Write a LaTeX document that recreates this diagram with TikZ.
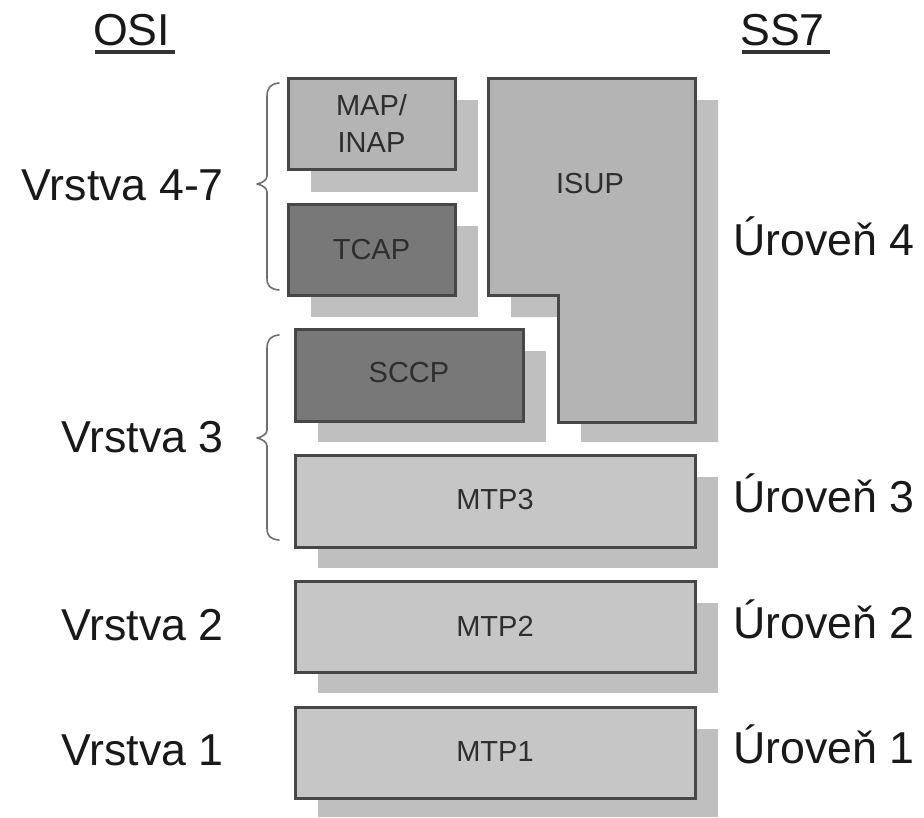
\documentclass[tikz,border=0pt]{standalone}
\usepackage{fontspec}
\setmainfont{Liberation Sans}
\definecolor{bordergray}{HTML}{474747}
\definecolor{lightfill}{HTML}{B4B4B4}
\definecolor{mtpfill}{HTML}{C6C6C6}
\definecolor{darkfill}{HTML}{787878}
\definecolor{shadowgray}{HTML}{BFBFBF}
\definecolor{bracegray}{HTML}{6E6E6E}
\definecolor{textgray}{HTML}{2E2E2E}
\tikzset{
  boxline/.style={draw=bordergray, line width=3pt},
  shadowbox/.style={fill=shadowgray},
  lab/.style={font=\fontsize{44.7}{50}\selectfont, inner sep=0pt, text=black!90},
  boxtext/.style={font=\fontsize{29}{37}\selectfont, text=textgray, align=center, inner sep=0pt},
  bracestyle/.style={draw=bracegray, line width=1.6pt, line cap=round, line join=round}
}
\begin{document}
\begin{tikzpicture}[x=1pt,y=-1pt]
\useasboundingbox (0,0) rectangle (924,817);
\fill[white] (0,0) rectangle (924,817);

% shadows
\path[shadowbox] (311,100) rectangle (478,192);
\path[shadowbox] (311,226) rectangle (478,317);
\path[shadowbox] (511,100) -- (718,100) -- (718,442) -- (581,442) -- (581,317) -- (511,317) -- cycle;
\path[shadowbox] (318,351) rectangle (546,442);
\path[shadowbox] (318,477) rectangle (718,568);
\path[shadowbox] (318,603) rectangle (718,693);
\path[shadowbox] (318,729) rectangle (718,817);

% boxes
\path[boxline, fill=lightfill] (288,78) rectangle (455,169);
\node[boxtext] (map) at (371.5,123.5) {MAP/\\INAP};
\path[boxline, fill=darkfill] (288,204) rectangle (455,295);
\node[boxtext] (tcap) at (371.5,249.5) {TCAP};
\path[boxline, fill=lightfill] (488,78) -- (695,78) -- (695,422) -- (558,422) -- (558,295) -- (488,295) -- cycle;
\node[boxtext] (isup) at (590,184) {ISUP};
\path[boxline, fill=darkfill] (295,329) rectangle (523,421);
\node[boxtext] (sccp) at (409,373) {SCCP};
\path[boxline, fill=mtpfill] (295,455) rectangle (695,547);
\node[boxtext] (mtp3) at (495,500) {MTP3};
\path[boxline, fill=mtpfill] (295,581) rectangle (695,672);
\node[boxtext] (mtp2) at (495,626) {MTP2};
\path[boxline, fill=mtpfill] (295,707) rectangle (695,798);
\node[boxtext] (mtp1) at (495,752) {MTP1};

% headers
\node[lab, anchor=base west] (osi) at (93,45) {OSI};
\draw[line width=3.5pt, black!80] (95,52) -- (175,52);
\node[lab, anchor=base west] (ss7) at (740,45) {SS7};
\draw[line width=3.5pt, black!80] (742,52) -- (830,52);

% left labels
\node[lab, anchor=base east] (v47) at (224,200) {Vrstva 4-7};
\node[lab, anchor=base east] (v3) at (224,452) {Vrstva 3};
\node[lab, anchor=base east] (v2) at (224,640) {Vrstva 2};
\node[lab, anchor=base east] (v1) at (224,765) {Vrstva 1};

% right labels
\node[lab, anchor=base west] (u4) at (733,255) {Úroveň 4};
\node[lab, anchor=base west] (u3) at (733,512) {Úroveň 3};
\node[lab, anchor=base west] (u2) at (733,638) {Úroveň 2};
\node[lab, anchor=base west] (u1) at (733,763) {Úroveň 1};

% braces
\draw[bracestyle] (279,83) .. controls (270,84) and (267,88) .. (267,97)
  -- (267,176) .. controls (267,180) and (262,183) .. (257,184)
  .. controls (262,185) and (267,188) .. (267,192)
  -- (267,278) .. controls (267,286) and (270,289) .. (279,290);
\draw[bracestyle] (279,335) .. controls (270,336) and (267,340) .. (267,349)
  -- (267,430) .. controls (267,434) and (262,437) .. (257,438)
  .. controls (262,439) and (267,442) .. (267,446)
  -- (267,528) .. controls (267,536) and (270,539) .. (279,540);
\end{tikzpicture}
\end{document}
